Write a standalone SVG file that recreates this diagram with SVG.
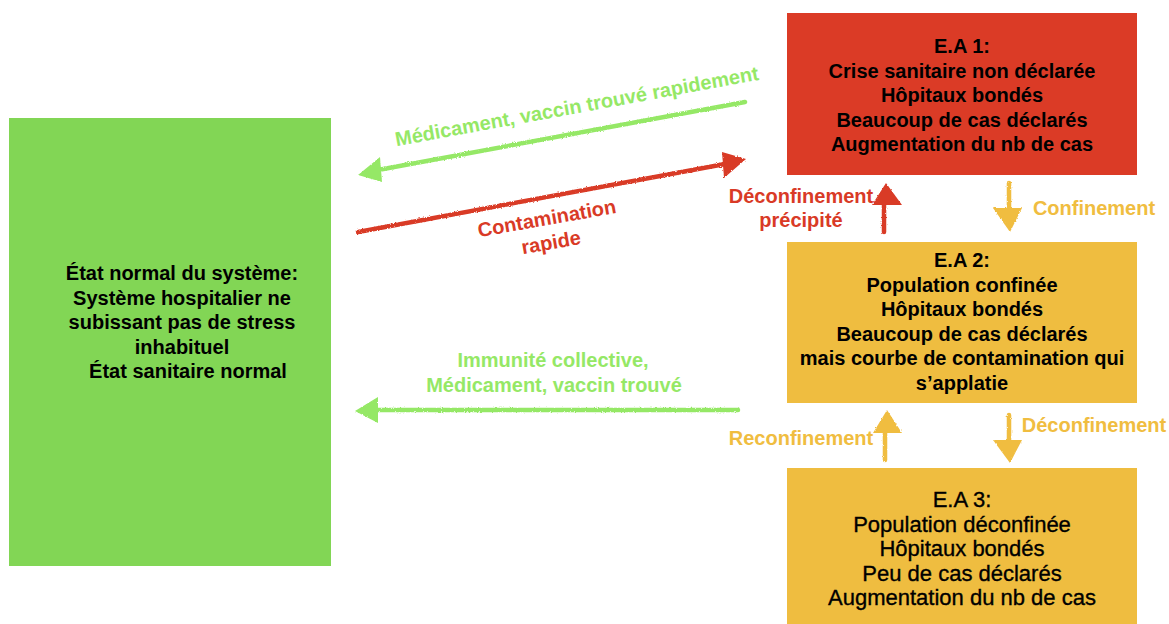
<svg xmlns="http://www.w3.org/2000/svg" width="1169" height="624" viewBox="0 0 1169 624">
<style>
.t{font-family:"Liberation Sans",Arial,Helvetica,sans-serif;font-size:20px;font-weight:bold;text-anchor:middle;fill:#000}
.r{font-weight:normal;font-size:22px;stroke:#000;stroke-width:0.35}
.lg{fill:#95E866}
.lr{fill:#D93A26}
.ly{fill:#F0BD40}
.sg{stroke:#95E866;fill:none;stroke-width:4.5;stroke-linecap:round}
.sr{stroke:#D93A26;fill:none;stroke-width:4.5;stroke-linecap:round}
.sy{stroke:#F0BD40;fill:none;stroke-width:4.5;stroke-linecap:round}
</style>
<defs>
<filter id="rough" x="-5%" y="-20%" width="110%" height="140%">
<feTurbulence type="fractalNoise" baseFrequency="0.8" numOctaves="2" seed="3" result="n"/>
<feDisplacementMap in="SourceGraphic" in2="n" scale="2.5" xChannelSelector="R" yChannelSelector="G"/>
</filter>
</defs>
<rect width="1169" height="624" fill="#fff"/>

<g id="node-normal">
<rect x="9" y="118" width="322" height="448" fill="#82D655"/>
<text class="t" x="182" y="280">État normal du système:</text>
<text class="t" x="182" y="304.5">Système hospitalier ne</text>
<text class="t" x="182" y="329">subissant pas de stress</text>
<text class="t" x="182" y="353.5">inhabituel</text>
<text class="t" x="188" y="378">État sanitaire normal</text>
</g>

<g id="node-ea1">
<rect x="787" y="13" width="350" height="162" fill="#DB3B26"/>
<text class="t" x="962" y="53">E.A 1:</text>
<text class="t" x="962" y="77.5">Crise sanitaire non déclarée</text>
<text class="t" x="962" y="102">Hôpitaux bondés</text>
<text class="t" x="962" y="126.5">Beaucoup de cas déclarés</text>
<text class="t" x="962" y="151">Augmentation du nb de cas</text>
</g>

<g id="node-ea2">
<rect x="787" y="242" width="350" height="161" fill="#EFBD40"/>
<text class="t" x="962" y="267">E.A 2:</text>
<text class="t" x="962" y="291.5">Population confinée</text>
<text class="t" x="962" y="316">Hôpitaux bondés</text>
<text class="t" x="962" y="340.5">Beaucoup de cas déclarés</text>
<text class="t" x="962" y="365">mais courbe de contamination qui</text>
<text class="t" x="962" y="389.5">s’applatie</text>
</g>

<g id="node-ea3">
<rect x="787" y="468" width="350" height="156" fill="#EFBD40"/>
<text class="t r" x="962" y="507">E.A 3:</text>
<text class="t r" x="962" y="531.5">Population déconfinée</text>
<text class="t r" x="962" y="556">Hôpitaux bondés</text>
<text class="t r" x="962" y="580.5">Peu de cas déclarés</text>
<text class="t r" x="962" y="605">Augmentation du nb de cas</text>
</g>

<g id="connectors">
<g filter="url(#rough)">
<path class="sg" d="M745,102 L378,170"/>
<polygon class="lg" points="358,175 380,157 382,182"/>
<path class="sr" d="M358,232 L725,164"/>
<polygon class="lr" points="746,159 722,152 724,178"/>
<path class="sg" d="M738,410 L376,410"/>
<polygon class="lg" points="355,411 378,397 378,423"/>
<path class="sr" d="M884,232 L884,204"/>
<polygon class="lr" points="886,183 872,205 902,205"/>
<path class="sy" d="M1009,183 L1009,209"/>
<polygon class="ly" points="1010,232 993,208 1022,208"/>
<path class="sy" d="M885,460 L885,432"/>
<polygon class="ly" points="887,410 873,433 902,433"/>
<path class="sy" d="M1009,415 L1009,441"/>
<polygon class="ly" points="1010,463 993,440 1022,440"/>
</g>
<text class="t lg" transform="translate(578,113) rotate(-10.4)" x="0" y="0">Médicament, vaccin trouvé rapidement</text>
<g transform="translate(548,225) rotate(-10)">
<text class="t lr" x="0" y="0">Contamination</text>
<text class="t lr" x="0" y="24.5">rapide</text>
</g>
<text class="t lg" x="553" y="367">Immunité collective,</text>
<text class="t lg" x="554" y="391.5">Médicament, vaccin trouvé</text>
<text class="t lr" x="801" y="203">Déconfinement</text>
<text class="t lr" x="801" y="227">précipité</text>
<text class="t ly" x="1094" y="215">Confinement</text>
<text class="t ly" x="801" y="445">Reconfinement</text>
<text class="t ly" x="1094" y="432">Déconfinement</text>
</g>
</svg>
